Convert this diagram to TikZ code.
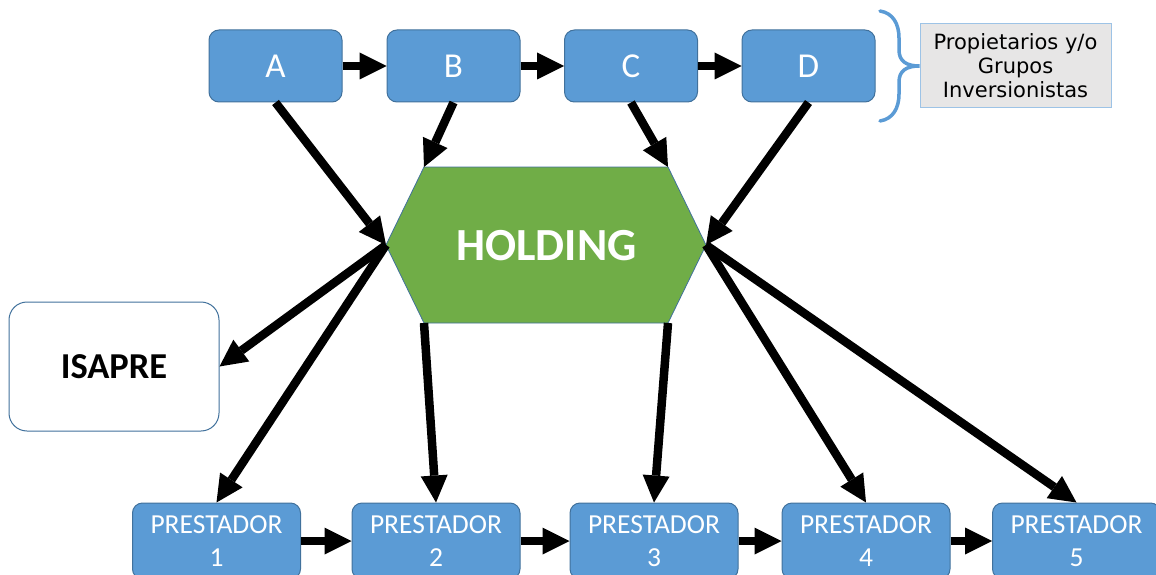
\documentclass[tikz,border=0pt]{standalone}
\usepackage{fontspec}
\setmainfont{Carlito}
\newfontfamily\notefont{DejaVu Sans}
\usetikzlibrary{arrows.meta,calc}

\definecolor{boxblue}{HTML}{5B9BD5}
\definecolor{edgeblue}{HTML}{41719C}
\definecolor{holdgreen}{HTML}{70AD47}
\definecolor{notegray}{HTML}{E7E6E6}
\definecolor{noteedge}{HTML}{9DC3E6}

\begin{document}
\begin{tikzpicture}[x=1pt,y=-1pt,
  owner/.style={draw=edgeblue, line width=1pt, fill=boxblue, rounded corners=10pt,
    minimum width=133pt, minimum height=72pt, inner sep=0pt, text=white,
    font=\fontsize{35}{40}\selectfont},
  provider/.style={draw=edgeblue, line width=1pt, fill=boxblue, rounded corners=10pt,
    minimum width=168pt, minimum height=76pt, inner sep=0pt, text=white, align=center,
    font=\fontsize{27.5}{33}\selectfont},
  flow/.style={line width=8.5pt, -{Triangle[length=27pt,width=27pt,line width=0pt]}}
]
\useasboundingbox (0,0) rectangle (1156,575);
\clip (0,0) rectangle (1156,575);

% owners
\node[owner] (a) at (275.5,66) {A};
\node[owner] (b) at (453.5,66) {B};
\node[owner] (c) at (631,66) {C};
\node[owner] (d) at (808.5,66) {D};

% note with brace
\node[draw=noteedge, line width=1pt, fill=notegray, minimum width=191pt, minimum height=84pt,
  inner sep=0pt, align=center, font=\notefont\fontsize{21}{24}\selectfont] (note)
  at (1015.5,66) {Propietarios y/o\\Grupos\\Inversionistas};
\draw[boxblue, line width=3.5pt, line cap=round]
  (880,11) .. controls (893,13) and (899,24) .. (899,38) -- (899,50)
  .. controls (899,61) and (906,66) .. (note.west)
  .. controls (906,66) and (899,71) .. (899,82) -- (899,94)
  .. controls (899,108) and (893,119) .. (880,121);

% holding hexagon
\draw[draw=edgeblue, line width=0.8pt, fill=holdgreen]
  (386,245) coordinate (hl) -- (424,167) coordinate (htl) -- (668,167) coordinate (htr)
  -- (706,245) coordinate (hr) -- (668,323) coordinate (hbr) -- (424,323) coordinate (hbl) -- cycle;
\node[text=white, font=\bfseries\fontsize{46}{52}\selectfont] (holding) at (546.5,245.5) {HOLDING};

% isapre
\node[draw=edgeblue, line width=1pt, fill=white, rounded corners=18pt, minimum width=210pt,
  minimum height=129pt, font=\bfseries\fontsize{36.5}{42}\selectfont] (isapre) at (114,366.5) {ISAPRE};

% providers
\node[provider] (p1) at (216.5,541) {PRESTADOR\\1};
\node[provider] (p2) at (436,541) {PRESTADOR\\2};
\node[provider] (p3) at (654,541) {PRESTADOR\\3};
\node[provider] (p4) at (866,541) {PRESTADOR\\4};
\node[provider] (p5) at (1076.5,541) {PRESTADOR\\5};

% connectors
\draw[flow] (a) -- (b);
\draw[flow] (b) -- (c);
\draw[flow] (c) -- (d);
\draw[flow] (a.south) -- (hl);
\draw[flow] (b.south) -- (htl);
\draw[flow] (c.south) -- (htr);
\draw[flow] (d.south) -- (hr);
\draw[flow] (hl) -- (isapre.east);
\draw[flow] (hl) -- (p1.north);
\draw[flow] (hbl) -- (p2.north);
\draw[flow] (hbr) -- (p3.north);
\draw[flow] (hr) -- (p4.north);
\draw[flow] (hr) -- (p5.north);
\draw[flow] (p1) -- (p2);
\draw[flow] (p2) -- (p3);
\draw[flow] (p3) -- (p4);
\draw[flow] (p4) -- (p5);
\end{tikzpicture}
\end{document}
